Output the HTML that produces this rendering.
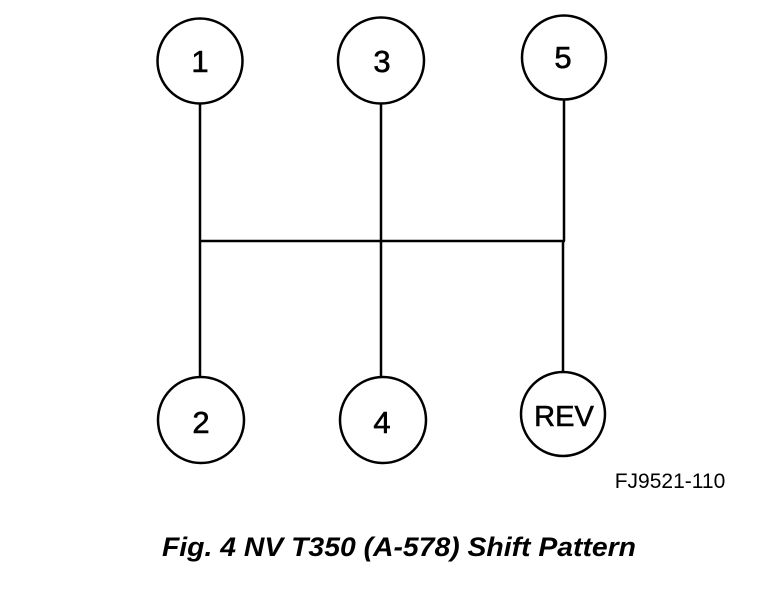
<!DOCTYPE html>
<html><head><style>
body{margin:0;background:#fff;}
svg{display:block;}
</style></head><body>
<svg width="768" height="594" viewBox="0 0 768 594" xmlns="http://www.w3.org/2000/svg">
<g stroke="#000" stroke-width="2.5" fill="none">
<circle cx="200" cy="61" r="42.5"/>
<circle cx="381" cy="60.5" r="43"/>
<circle cx="564" cy="57.5" r="42"/>
<circle cx="201" cy="420" r="43"/>
<circle cx="383" cy="420" r="43"/>
<circle cx="563" cy="414" r="42"/>
<line x1="200" y1="104" x2="200" y2="241"/>
<line x1="200" y1="241" x2="200" y2="377"/>
<line x1="381" y1="104" x2="381" y2="377"/>
<line x1="564" y1="100" x2="564" y2="241"/>
<line x1="563" y1="241" x2="563" y2="372"/>
<line x1="199" y1="241" x2="565" y2="241"/>
</g>
<g font-family="Liberation Sans, sans-serif" font-size="31" text-anchor="middle" fill="#000" stroke="#000" stroke-width="0.6">
<text x="200" y="72">1</text>
<text x="382" y="72">3</text>
<text x="563" y="68">5</text>
<text x="201" y="433">2</text>
<text x="382" y="433">4</text>
<text x="564" y="426" font-size="29">REV</text>
</g>
<text x="670" y="488" font-family="Liberation Sans, sans-serif" font-size="21" text-anchor="middle" fill="#000">FJ9521-110</text>
<text x="399" y="556" font-family="Liberation Sans, sans-serif" font-size="27" font-weight="bold" font-style="italic" text-anchor="middle" fill="#000" textLength="474" lengthAdjust="spacingAndGlyphs">Fig. 4 NV T350 (A-578) Shift Pattern</text>
</svg>
</body></html>
